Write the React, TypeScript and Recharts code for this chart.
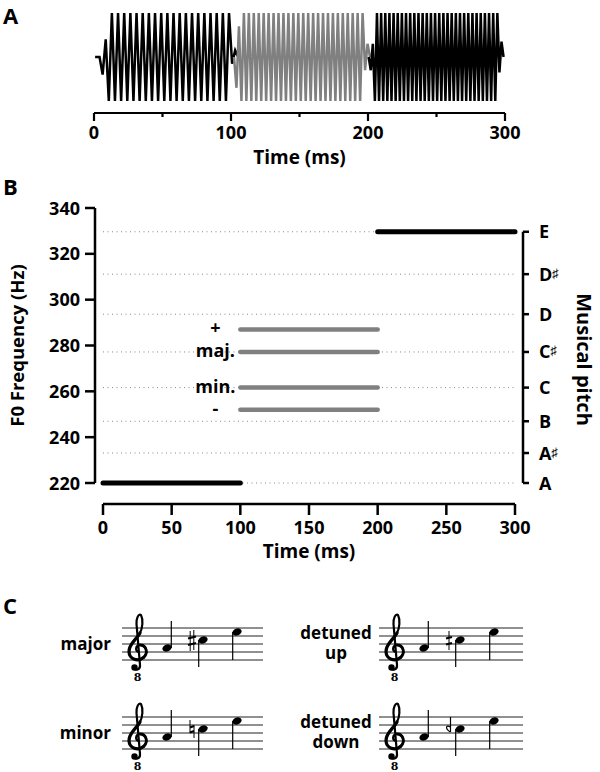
import { ComposedChart, Line, LineChart, ReferenceLine, XAxis, YAxis } from 'recharts'

const FONT = '"Open Sans", sans-serif'
const txt = { fontFamily: FONT, fontWeight: 700, fill: '#000' }

// panel A: one amplitude per cycle (trough then peak)
const tone1Env = [0.4, 1, 1, 1, 1, 1, 1, 1, 1, 1, 1, 1, 1, 1, 1, 1, 1, 1, 1, 1, 1, 0.15]
const tone2Env = [0.7, 1, 1, 1, 1, 1, 1, 1, 1, 1, 1, 1, 1, 1, 1, 1, 1, 1, 1, 1, 1, 1, 1, 1, 1, 1, 0.3]
const tone3Env = [0.3, 1, 1, 1, 1, 1, 1, 1, 1, 1, 1, 1, 1, 1, 1, 1, 1, 1, 1, 1, 1, 1, 1, 1, 1, 1, 1, 1, 1, 1, 1, 0.35]
const toneStart = [6.3, 104, 202] // ms
const tonePeriod = [4.5, 3.61, 3.03] // ms per cycle
const leadIn = 0.8

// panel B
const timeTicks = [0, 50, 100, 150, 200, 250, 300]
const hzTicks = [220, 240, 260, 280, 300, 320, 340]
const pitchNames = ['A', 'A♯', 'B', 'C', 'C♯', 'D', 'D♯', 'E']
const pitchHz = [220, 233.08, 246.94, 261.63, 277.18, 293.66, 311.13, 329.63]
const firstTone = [{ t: 0, f: 220 }, { t: 100, f: 220 }]
const thirdTone = [{ t: 200, f: 329.63 }, { t: 300, f: 329.63 }]
const secondTags = ['+', 'maj.', 'min.', '-']
const secondHz = [287, 277.18, 261.63, 252]

// panel C
const staffLabels = [['major'], ['detuned', 'up'], ['minor'], ['detuned', 'down']]
const staffAccidentals = ['sharp', 'halfSharp', 'natural', 'revFlat']

function buildWave(start: number, period: number, env: number[]) {
  const pts = [{ t: start - period * 0.5, v: 0 }]
  env.forEach((a, i) => {
    pts.push({ t: start + i * period, v: -a })
    pts.push({ t: start + (i + 0.5) * period, v: a })
  })
  pts.push({ t: start + env.length * period, v: 0 })
  return pts
}

const wave1 = [{ t: leadIn, v: 0 }, ...buildWave(toneStart[0], tonePeriod[0], tone1Env)]
const wave2 = buildWave(toneStart[1], tonePeriod[1], tone2Env)
const wave3 = buildWave(toneStart[2], tonePeriod[2], tone3Env)

function WaveTick({ x, y, payload }: any) {
  const major = payload.value % 100 === 0
  return (
    <g>
      <line x1={x} x2={x} y1={y} y2={y + (major ? 8 : 4)} stroke="#000" strokeWidth={2.2} />
      {major && (
        <text x={x} y={y + 26} textAnchor="middle" fontSize={18} style={txt}>
          {payload.value}
        </text>
      )}
    </g>
  )
}

function TimeTick({ x, y, payload }: any) {
  return (
    <g>
      <line x1={x} x2={x} y1={y} y2={y + 11} stroke="#000" strokeWidth={2.5} />
      <text x={x} y={y + 30} textAnchor="middle" fontSize={18} style={txt}>
        {payload.value}
      </text>
    </g>
  )
}

function HzTick({ x, y, payload }: any) {
  return (
    <g>
      <line x1={x - 10} x2={x} y1={y} y2={y} stroke="#000" strokeWidth={2.5} />
      <text x={x - 15} y={y + 6.5} textAnchor="end" fontSize={18} style={txt}>
        {payload.value}
      </text>
    </g>
  )
}

function PitchTick({ x, y, payload }: any) {
  const name = pitchNames[pitchHz.indexOf(payload.value)] ?? ''
  return (
    <g>
      <line x1={x} x2={x + 6} y1={y} y2={y} stroke="#000" strokeWidth={2.5} />
      <text x={x + 16} y={y + 6.5} fontSize={18} style={txt}>
        {name[0]}
        {name.length > 1 && (
          <tspan fontSize={13} fontWeight={400} dy={-3}>
            {name.slice(1)}
          </tspan>
        )}
      </text>
    </g>
  )
}

function VTitle({ viewBox, value, dx, dy, angle, size }: any) {
  const vb = viewBox ?? { x: 0, y: 0, width: 0, height: 0 }
  const cx = vb.x + dx
  const cy = vb.y + (vb.height - 21) / 2 + dy
  return (
    <text
      x={cx}
      y={cy}
      transform={`rotate(${angle}, ${cx}, ${cy})`}
      textAnchor="middle"
      dominantBaseline="central"
      fontSize={size}
      style={txt}
    >
      {value}
    </text>
  )
}

const tag = (s: string) => (p: any) =>
  p.index === 0 ? (
    <text x={p.x - 25} y={p.y + 5} textAnchor="middle" fontSize={18} style={txt}>
      {s}
    </text>
  ) : null

function Clef({ x, y }: { x: number; y: number }) {
  return (
    <g transform={`translate(${x}, ${y})`} fill="none" stroke="#000" strokeLinecap="round">
      <path
        d="M 11 24 C 7 24, 7 17, 12 17 C 18.5 17, 20.5 25, 15.5 29.5 C 10 34, 1.5 31.5, 1 24 C 0.5 16, 9 11, 12 5 C 14.5 0, 15.5 -8, 13 -13 C 10.5 -15, 8 -9, 8.5 -4 L 12 37 C 12.5 42, 7 43, 6 40"
        strokeWidth={2.2}
      />
      <path d="M 15.5 29.5 C 10 34, 1.5 31.5, 1 24 C 0.5 16, 9 11, 12 5" strokeWidth={3.2} />
      <path d="M 12 17 C 18.5 17, 20.5 25, 15.5 29.5" strokeWidth={2.8} />
      <circle cx={6.5} cy={39.5} r={3.2} fill="#000" stroke="none" />
      <text x={9.5} y={53} textAnchor="middle" fontSize={11} fontWeight={700} fontFamily="DejaVu Serif" fill="#000" stroke="none">
        8
      </text>
    </g>
  )
}

function Accidental({ kind, x, cy }: { kind: string; x: number; cy: number }) {
  const s = { stroke: '#000', fill: 'none' }
  if (kind === 'sharp')
    return (
      <g {...s}>
        <line x1={x - 1.8} x2={x - 1.8} y1={cy - 9} y2={cy + 11} strokeWidth={1} />
        <line x1={x + 1.8} x2={x + 1.8} y1={cy - 10} y2={cy + 10} strokeWidth={1} />
        <line x1={x - 4} x2={x + 4} y1={cy - 1.5} y2={cy - 3.5} strokeWidth={2.2} />
        <line x1={x - 4} x2={x + 4} y1={cy + 5} y2={cy + 3} strokeWidth={2.2} />
      </g>
    )
  if (kind === 'halfSharp')
    return (
      <g {...s}>
        <line x1={x} x2={x} y1={cy - 9} y2={cy + 10} strokeWidth={1} />
        <line x1={x - 3} x2={x + 3} y1={cy - 1.5} y2={cy - 3} strokeWidth={2.2} />
        <line x1={x - 3} x2={x + 3} y1={cy + 4.5} y2={cy + 3} strokeWidth={2.2} />
      </g>
    )
  if (kind === 'natural')
    return (
      <g {...s}>
        <line x1={x - 2} x2={x - 2} y1={cy - 9} y2={cy + 4} strokeWidth={1} />
        <line x1={x + 2} x2={x + 2} y1={cy - 4} y2={cy + 9} strokeWidth={1} />
        <line x1={x - 2} x2={x + 2} y1={cy - 1.5} y2={cy - 3} strokeWidth={2} />
        <line x1={x - 2} x2={x + 2} y1={cy + 3.5} y2={cy + 2} strokeWidth={2} />
      </g>
    )
  return (
    <g {...s} strokeWidth={1.2}>
      <line x1={x + 1.5} x2={x + 1.5} y1={cy - 12} y2={cy + 3} />
      <path d={`M ${x + 1.5} ${cy + 3} C ${x - 4} ${cy}, ${x - 3.5} ${cy - 5}, ${x + 1.5} ${cy - 2}`} />
    </g>
  )
}

function Note({ x, y, stem }: { x: number; y: number; stem: number }) {
  const sx = stem < y ? x + 4.3 : x - 4.3
  return (
    <g>
      <ellipse cx={x} cy={y} rx={4.8} ry={3.5} transform={`rotate(-22, ${x}, ${y})`} fill="#000" />
      <line x1={sx} x2={sx} y1={y} y2={stem} stroke="#000" strokeWidth={1.2} />
    </g>
  )
}

function Staff({ x0, top, width, label, acc }: any) {
  return (
    <g>
      {[0, 8, 16, 24, 32].map((d) => (
        <line key={d} x1={x0} x2={x0 + width} y1={top + d} y2={top + d} stroke="#222" strokeWidth={1.2} />
      ))}
      {label.length === 1 ? (
        <text x={x0 - 11} y={top + 22} textAnchor="end" fontSize={17} style={txt}>
          {label[0]}
        </text>
      ) : (
        <text x={x0 - 43} y={top + 11} textAnchor="middle" fontSize={17} style={txt}>
          {label[0]}
          <tspan x={x0 - 43} dy={19.5}>
            {label[1]}
          </tspan>
        </text>
      )}
      <Clef x={x0 + 6} y={top} />
      <Note x={x0 + 45} y={top + 20} stem={top - 7} />
      <Accidental kind={acc} x={x0 + 70} cy={top + 12} />
      <Note x={x0 + 81} y={top + 12} stem={top + 39} />
      <Note x={x0 + 115} y={top + 4} stem={top + 32} />
    </g>
  )
}

export default function App() {
  return (
    <div style={{ position: 'absolute', left: 0, top: 0, width: 600, height: 772, background: '#fff' }}>
      <div style={{ position: 'absolute', left: 0, top: 0 }}>
        <LineChart width={600} height={170} margin={{ top: 13, right: 95, bottom: 0, left: 94 }}>
          <XAxis
            type="number"
            dataKey="t"
            domain={[0, 300]}
            ticks={timeTicks}
            interval={0}
            height={57}
            tickSize={0}
            tickMargin={0}
            tickLine={false}
            axisLine={{ stroke: '#000', strokeWidth: 2.2 }}
            tick={<WaveTick />}
            label={{ value: 'Time (ms)', position: 'insideBottom', offset: 6, style: { ...txt, fontSize: 19 } }}
          />
          <YAxis hide type="number" domain={[-1, 1]} padding={{ top: 0, bottom: 12 }} />
          <Line data={wave1} dataKey="v" type="linear" stroke="#000" strokeWidth={2.5} dot={false} activeDot={false} isAnimationActive={false} />
          <Line data={wave2} dataKey="v" type="linear" stroke="#808080" strokeWidth={2.5} dot={false} activeDot={false} isAnimationActive={false} />
          <Line data={wave3} dataKey="v" type="linear" stroke="#000" strokeWidth={2.5} dot={false} activeDot={false} isAnimationActive={false} />
        </LineChart>
      </div>

      <div style={{ position: 'absolute', left: 0, top: 170 }}>
        <ComposedChart width={600} height={400} margin={{ top: 38, right: 0, bottom: 0, left: 0 }}>
          <XAxis
            type="number"
            dataKey="t"
            domain={[0, 300]}
            ticks={timeTicks}
            interval={0}
            padding={{ left: 8, right: 8 }}
            height={66}
            tickSize={0}
            tickMargin={0}
            tickLine={false}
            axisLine={{ stroke: '#000', strokeWidth: 2.5, strokeDasharray: '0 8 412 100' }}
            tick={<TimeTick />}
            label={{ value: 'Time (ms)', position: 'insideBottom', offset: 12, style: { ...txt, fontSize: 19 } }}
          />
          <YAxis
            yAxisId="hz"
            type="number"
            domain={[220, 340]}
            ticks={hzTicks}
            interval={0}
            width={95}
            padding={{ top: 0, bottom: 21 }}
            tickSize={0}
            tickMargin={0}
            tickLine={false}
            axisLine={{ stroke: '#000', strokeWidth: 2.5, strokeDasharray: '275 100' }}
            tick={<HzTick />}
            label={{ content: (p: any) => <VTitle {...p} value="F0 Frequency (Hz)" dx={16} dy={0} angle={-90} size={18.5} /> }}
          />
          <YAxis
            yAxisId="pitch"
            orientation="right"
            type="number"
            domain={[220, 340]}
            ticks={pitchHz}
            interval={0}
            width={77}
            padding={{ top: 0, bottom: 21 }}
            tickSize={0}
            tickMargin={0}
            tickLine={false}
            axisLine={{ stroke: '#000', strokeWidth: 2.5, strokeDasharray: '0 23.8 251.2 100' }}
            tick={<PitchTick />}
            label={{ content: (p: any) => <VTitle {...p} value="Musical pitch" dx={61} dy={14} angle={90} size={20} /> }}
          />
          {pitchHz.map((f) => (
            <ReferenceLine
              key={f}
              yAxisId="pitch"
              segment={[{ x: 0, y: f }, { x: 300, y: f }]}
              stroke="#888"
              strokeWidth={1}
              strokeDasharray="1 3.5"
            />
          ))}
          {secondHz.map((f, i) => (
            <Line
              key={secondTags[i]}
              yAxisId="hz"
              data={[{ t: 100, f }, { t: 200, f }]}
              dataKey="f"
              stroke="#808080"
              strokeWidth={4.5}
              strokeLinecap="round"
              dot={false}
              activeDot={false}
              label={tag(secondTags[i])}
              isAnimationActive={false}
            />
          ))}
          <Line yAxisId="hz" data={firstTone} dataKey="f" stroke="#000" strokeWidth={5} strokeLinecap="round" dot={false} activeDot={false} isAnimationActive={false} />
          <Line yAxisId="pitch" data={thirdTone} dataKey="f" stroke="#000" strokeWidth={5} strokeLinecap="round" dot={false} activeDot={false} isAnimationActive={false} />
        </ComposedChart>
      </div>

      <svg style={{ position: 'absolute', left: 0, top: 0, pointerEvents: 'none' }} width={600} height={772}>
        <text x={3} y={24} fontSize={22} style={txt}>A</text>
        <text x={3} y={195} fontSize={22} style={txt}>B</text>
        <text x={3} y={614} fontSize={22} style={txt}>C</text>
        {staffLabels.map((label, i) => (
          <Staff
            key={i}
            x0={i % 2 === 0 ? 122 : 379}
            top={i < 2 ? 628 : 717}
            width={i % 2 === 0 ? 141 : 144}
            label={label}
            acc={staffAccidentals[i]}
          />
        ))}
      </svg>
    </div>
  )
}
